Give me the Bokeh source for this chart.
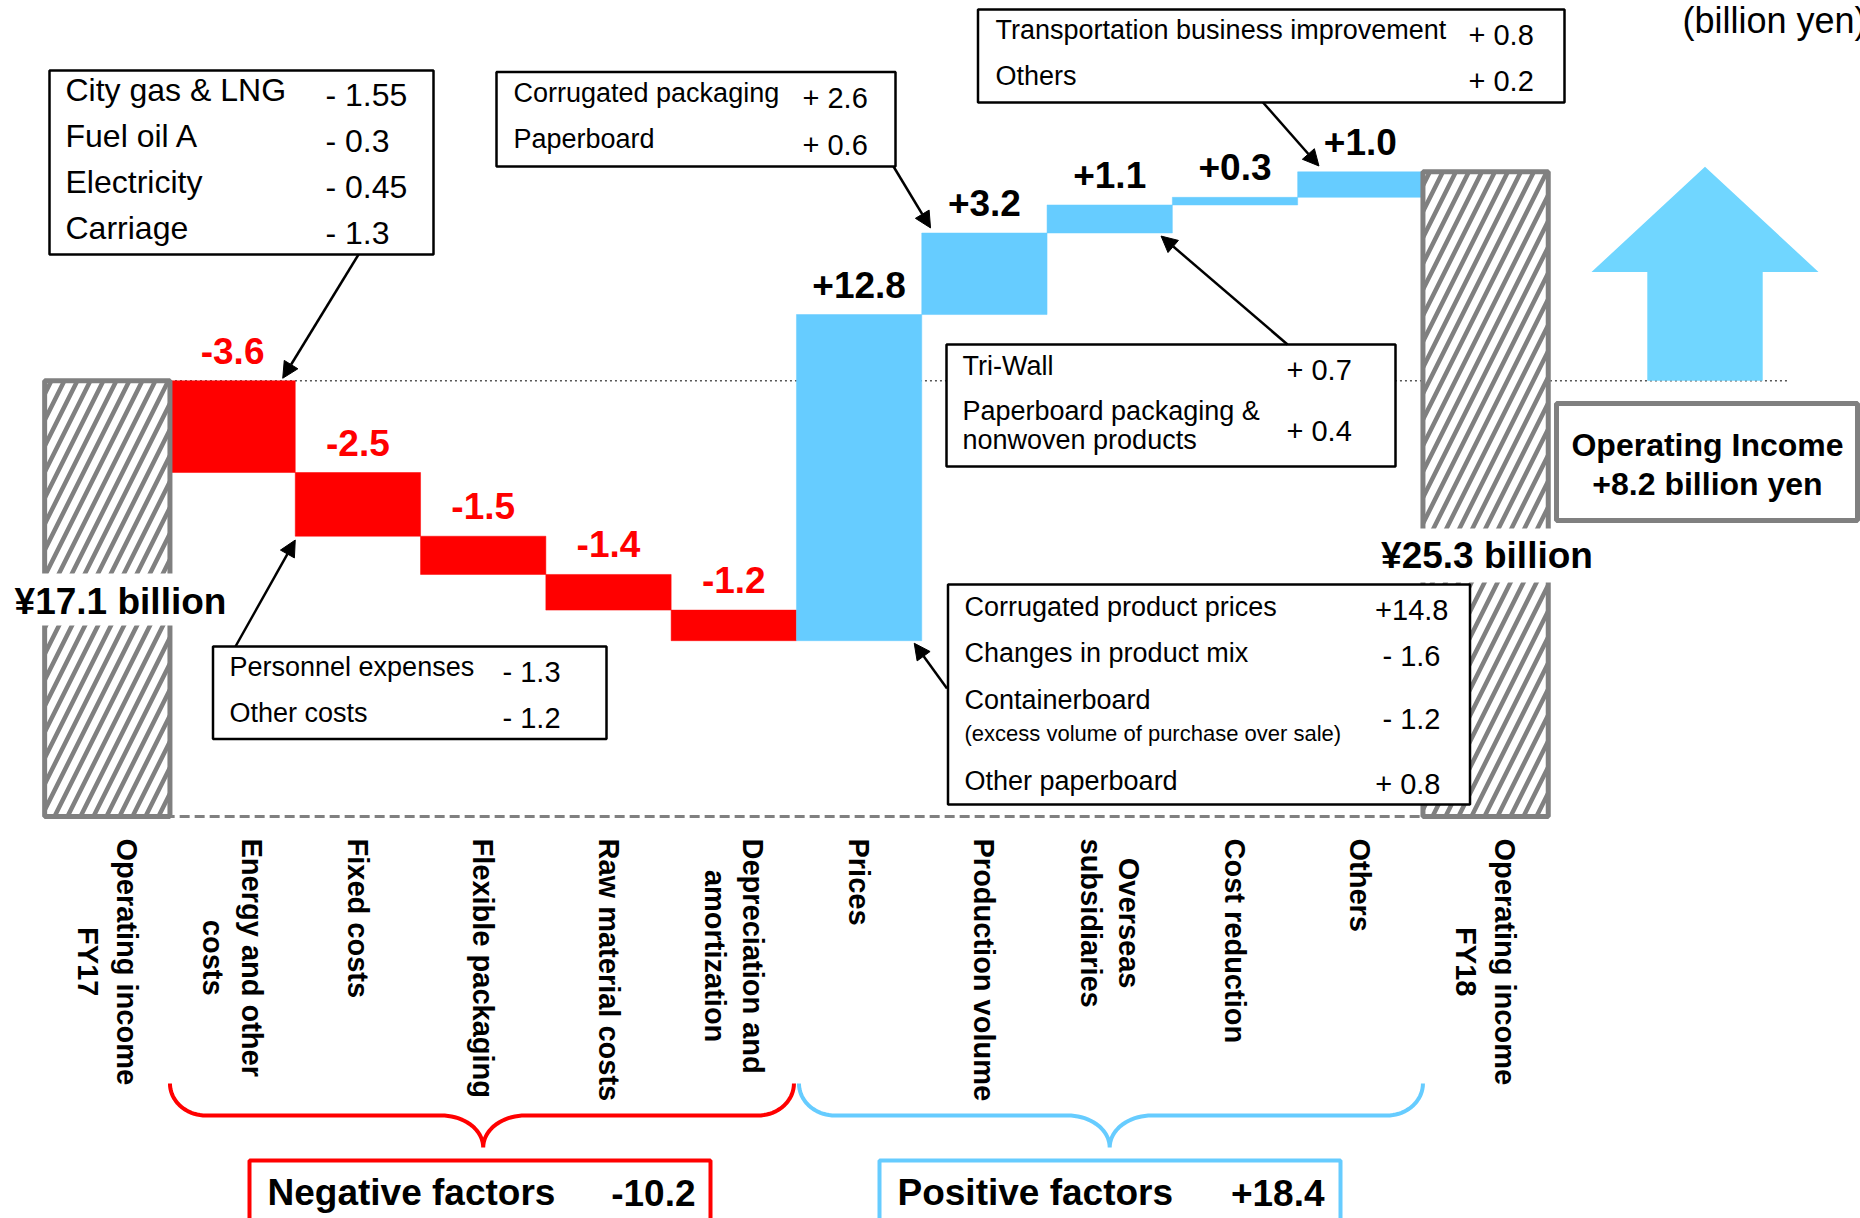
import numpy as np
from bokeh.plotting import figure
from bokeh.models import Range1d, Arrow, NormalHead
from bokeh.core.properties import value
from bokeh.embed import file_html
from bokeh.resources import INLINE

# ---------------- data ----------------
categories = ["Operating income\nFY17", "Energy and other\ncosts", "Fixed costs",
              "Flexible packaging", "Raw material costs", "Depreciation and\namortization",
              "Prices", "Production volume", "Overseas\nsubsidiaries", "Cost reduction",
              "Others", "Operating income\nFY18"]
fy17_income = 17.1
fy18_income = 25.3
factor_changes = [-3.6, -2.5, -1.5, -1.4, -1.2, 12.8, 3.2, 1.1, 0.3, 1.0]
factor_labels = ["-3.6", "-2.5", "-1.5", "-1.4", "-1.2", "+12.8", "+3.2", "+1.1", "+0.3", "+1.0"]
fy17_label = "¥17.1 billion"
fy18_label = "¥25.3 billion"
negative_label = "Negative factors"
negative_total = "-10.2"
positive_label = "Positive factors"
positive_total = "+18.4"
change_title = "Operating Income"
change_text = "+8.2 billion yen"
unit_text = "(billion yen)"

energy_items = ["City gas & LNG", "Fuel oil A", "Electricity", "Carriage"]
energy_values = ["- 1.55", "- 0.3", "- 0.45", "- 1.3"]
fixed_items = ["Personnel expenses", "Other costs"]
fixed_values = ["-  1.3", "-  1.2"]
price_items = ["Corrugated product prices", "Changes in product mix", "Containerboard", "Other paperboard"]
price_note = "(excess volume of purchase over sale)"
price_values = ["+14.8", "-  1.6", "-  1.2", "+  0.8"]
volume_items = ["Corrugated packaging", "Paperboard"]
volume_values = ["+ 2.6", "+ 0.6"]
overseas_items = ["Tri-Wall", "Paperboard packaging &", "nonwoven products"]
overseas_values = ["+ 0.7", "+ 0.4"]
others_items = ["Transportation business improvement", "Others"]
others_values = ["+ 0.8", "+ 0.2"]

# ---------------- layout helpers (pixel -> data) ----------------
W, H = 1860, 1218
X0, SX = 106.8, 125.3     # pixel of slot 0, pixels per slot
Y0, SY = 816.0, 25.48     # pixel of value 0, pixels per billion yen


def dx(px):
    return (px - X0) / SX


def dy(py):
    return (Y0 - py) / SY


p = figure(width=W, height=H, x_range=Range1d(dx(0), dx(W)), y_range=Range1d(dy(H), dy(0)),
           output_backend="svg", toolbar_location=None, x_axis_location=None,
           y_axis_location=None, min_border=0, outline_line_color=None,
           background_fill_color="white", border_fill_color="white")
p.grid.visible = False

FONT = "Liberation Sans"
RED = "#FF0000"
BLUE = "#66CCFF"
GRAY = "#808080"


def put(x_px, y_px, txt, size, style="normal", align="left", color="black"):
    p.text(x=[dx(x_px)], y=[dy(y_px)], text=[txt], text_font=value(FONT),
           text_font_size=f"{size}px", text_font_style=style, text_align=align,
           text_baseline="middle", text_color=color)


def box(l, t, r, b, color="black", lw=2.5):
    p.quad(left=[dx(l)], right=[dx(r)], top=[dy(t)], bottom=[dy(b)],
           fill_color="white", line_color=color, line_width=lw)


# ---------------- waterfall ----------------
n = len(categories)
levels = fy17_income + np.cumsum(factor_changes)
prev = np.concatenate([[fy17_income], levels[:-1]])
bottoms = np.minimum(prev, levels)
tops = np.maximum(prev, levels)
xs = np.arange(1, n - 1)
colors = [RED if c < 0 else BLUE for c in factor_changes]

# reference lines
p.line(x=[0.5, dx(1788)], y=[fy17_income, fy17_income], line_dash="2 3",
       line_color="#555555", line_width=1.5)
p.line(x=[-0.5, n - 1.5], y=[0, 0], line_dash="10 5", line_color=GRAY, line_width=3)

p.quad(left=xs - 0.5, right=xs + 0.5, bottom=bottoms, top=tops,
       fill_color=colors, line_color=colors, line_width=0.5)

label_colors = [RED if c < 0 else "black" for c in factor_changes]
p.text(x=xs, y=tops + 30 / SY, text=factor_labels, text_font=value(FONT),
       text_font_size="37px", text_font_style="bold", text_align="center",
       text_baseline="middle", text_color=label_colors)

# totals (hatched)
tot_x = np.array([0, n - 1])
tot_v = np.array([fy17_income, fy18_income])
p.quad(left=tot_x - 0.5, right=tot_x + 0.5, bottom=0, top=tot_v, fill_color="white",
       hatch_pattern="right_diagonal_line", hatch_color=GRAY, hatch_scale=26,
       hatch_weight=4.5, line_color=GRAY, line_width=5)

# white bands behind total labels
p.quad(left=tot_x - 0.56, right=tot_x + 0.56, bottom=[dy(625), dy(582)], top=[dy(573), dy(528)],
       fill_color="white", line_color=None)
put(120, 601, fy17_label, 37, "bold", "center")
put(1486.5, 555, fy18_label, 37, "bold", "center")

# category labels (rotated)
BW = dict(zip(" abcdefghijklmnopqrstuvwxyz",
              [278, 556, 611, 556, 611, 556, 333, 611, 611, 278, 278, 556, 278, 889, 611,
               611, 611, 611, 389, 556, 333, 611, 556, 778, 556, 556, 500]))
BW.update({'C': 722, 'D': 722, 'E': 667, 'F': 611, 'O': 778, 'P': 667, 'R': 722, 'Y': 667})


def tw(s, size):
    return sum(BW.get(c, 556) for c in s) * size / 1000.0


cat_size = 29
cat_y = [dy(838 + max(tw(l, cat_size) for l in c.split("\n")) / 2) for c in categories]
p.text(x=list(range(n)), y=cat_y, text=categories, angle=-np.pi / 2, text_align="center",
       text_baseline="middle", text_font=value(FONT), text_font_style="bold",
       text_font_size=f"{cat_size}px", text_line_height=1.2)

# up arrow for the change in operating income
cx, hw, sw = dx(1704.5), 113.5 / SX, 57.7 / SX
head_y = dy(271.5)
tip_y = fy18_income + 0.2
p.patch(x=[cx - sw, cx - sw, cx - hw, cx, cx + hw, cx + sw, cx + sw],
        y=[fy17_income, head_y, head_y, tip_y, head_y, head_y, fy17_income],
        fill_color="#70D6FF", line_color=None)

# operating income change box
box(1556, 403, 1857, 520, GRAY, 5)
put(1707, 444, change_title, 32, "bold", "center")
put(1707, 483, change_text, 32, "bold", "center")
put(1682, 20, unit_text, 36)

# ---------------- callout boxes ----------------
CS = 27   # callout label font size
VS = 29   # callout value font size

# energy
box(49, 70, 433, 254)
for i, (t, v) in enumerate(zip(energy_items, energy_values)):
    put(65, 89 + 46 * i, t, 32)
    put(325, 94 + 46 * i, v, 32)

# corrugated packaging
box(496, 71.5, 895, 166)
for i, (t, v) in enumerate(zip(volume_items, volume_values)):
    put(513, 92.5 + 46 * i, t, CS)
    put(802, 97 + 47 * i, v, VS)

# transportation
box(977.5, 9, 1564, 102)
for i, (t, v) in enumerate(zip(others_items, others_values)):
    put(995, 29.5 + 45.5 * i, t, CS)
    put(1468, 34 + 46.5 * i, v, VS)

# tri-wall
box(946, 344, 1395, 466)
put(962, 365, overseas_items[0], CS)
put(962, 410, overseas_items[1], CS)
put(962, 439, overseas_items[2], CS)
put(1286, 369.5, overseas_values[0], VS)
put(1286, 430, overseas_values[1], VS)

# personnel
box(212.5, 646, 606, 738.5)
for i, (t, v) in enumerate(zip(fixed_items, fixed_values)):
    put(229, 666 + 46 * i, t, CS)
    put(502, 671 + 46.5 * i, v, VS)

# prices
box(947.5, 584, 1469.5, 804)
for t, yy in zip(price_items, [606, 652, 699, 780]):
    put(964, yy, t, CS)
put(964, 733, price_note, 22)
for v, yy in zip(price_values, [609, 655, 718, 783]):
    put(1448, yy, v, VS, align="right")

# callout arrows (tips anchored to bars)
def arrow(sx_px, sy_px, xe, ye):
    p.add_layout(Arrow(end=NormalHead(size=16, fill_color="black", line_color="black"),
                       x_start=dx(sx_px), y_start=dy(sy_px), x_end=xe, y_end=ye,
                       line_color="black", line_width=2.5))


arrow(358, 254, 1.40, fy17_income + 0.1)          # energy
arrow(235, 646, 1.5, levels[1] - 0.15)            # fixed costs
arrow(893, 166, 6.57, levels[6] + 0.2)            # production volume
arrow(1287, 344, 8.41, levels[6] - 0.12)          # overseas
arrow(1262.5, 102, 9.67, levels[9] + 0.23)        # others
arrow(946.5, 688, 6.44, levels[4] - 0.1)          # prices


# ---------------- braces ----------------
def brace(xl, xr, xc, color):
    yt, ym, yb = dy(1083), dy(1115), dy(1147)
    re, rm = 36 / SX, 42 / SX
    t = np.linspace(0, np.pi / 2, 20)
    lx1 = xl + re * (1 - np.cos(t)); ly1 = yt + (ym - yt) * np.sin(t)
    lx2 = xc - rm + rm * np.sin(t); ly2 = ym + (yb - ym) * (1 - np.cos(t))
    left_x = np.concatenate([lx1, lx2]); left_y = np.concatenate([ly1, ly2])
    rx1 = xr - re * (1 - np.cos(t)); rx2 = xc + rm - rm * np.sin(t)
    right_x = np.concatenate([rx1, rx2]); right_y = left_y
    bx = np.concatenate([left_x, right_x[::-1]])
    by = np.concatenate([left_y, right_y[::-1]])
    p.line(x=bx, y=by, line_color=color, line_width=4)


brace(0.5, 5.48, 3, RED)
brace(5.52, 10.5, 8, BLUE)

box(249, 1160, 710, 1240, RED, 4)
put(267, 1192, negative_label, 37, "bold")
put(695, 1192, negative_total, 37, "bold", "right")
box(879, 1160, 1340, 1240, BLUE, 4)
put(897, 1192, positive_label, 37, "bold")
put(1324, 1192, positive_total, 37, "bold", "right")

open("out.html", "w").write(file_html(p, INLINE))
